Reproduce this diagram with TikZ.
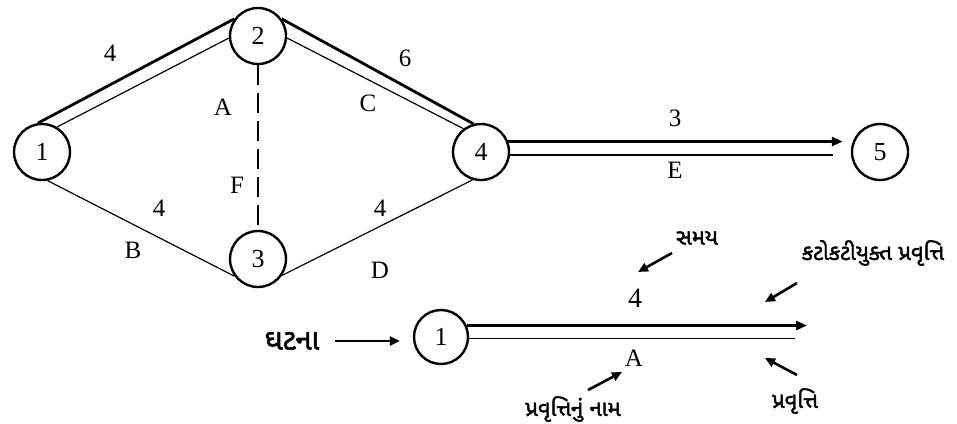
\documentclass[tikz,border=0pt]{standalone}
\usepackage{fontspec}
\setmainfont{Liberation Serif}
\newfontfamily\gujfont[Script=Gujarati,FakeBold=2]{Noto Sans Gujarati UI}
\usetikzlibrary{arrows.meta,calc}

\begin{document}
\begin{tikzpicture}[x=1pt, y=-1pt, >={Triangle[length=11pt,width=9pt]},
    event/.style={draw, circle, line width=2.4pt, minimum size=56pt, inner sep=0pt,
      font=\fontsize{26}{26}\selectfont},
    crit/.style={line width=2.8pt},
    act/.style={line width=1.2pt},
    lbl/.style={font=\fontsize{25}{25}\selectfont},
    guj/.style={font=\gujfont\fontsize{22}{22}\selectfont},
    gujbig/.style={font=\gujfont\fontsize{29}{29}\selectfont},
    pointer/.style={line width=2.6pt, -{Triangle[length=10pt,width=9pt]}}]
    \useasboundingbox (0,0) rectangle (957,423);

    % Events
    \node[event] (n1) at (42,152) {1};
    \node[event] (n2) at (258,36) {2};
    \node[event] (n3) at (258,259) {3};
    \node[event] (n4) at (481,152) {4};
    \node[event] (n5) at (880,152) {5};

    % Activities
    \draw[crit] (n1.98) -- (n2.144);
    \draw[act] (n1.59) -- (n2.184);
    \draw[crit] (n2.36) -- (n4.105);
    \draw[act] (n2.-4) -- (n4.127);
    \draw[act] (n1.-79) -- (n3.216);
    \draw[act] (n3.-34) -- (n4.253);
    \draw[crit, dash pattern=on 20pt off 8pt] (n2) -- (n3);
    \draw[crit, ->, shorten >=8pt] (n4.21) -- (n4.21 -| n5.west);
    \draw[act, shorten >=18pt] (n4.-6) -- (n4.-6 -| n5.west);

    % Durations and names
    \node[lbl] (w12) at (110,53) {4};
    \node[lbl] (a12) at (223,107) {A};
    \node[lbl] (w24) at (405,58) {6};
    \node[lbl] (c24) at (368,103) {C};
    \node[lbl] (f23) at (237,185) {F};
    \node[lbl] (w13) at (159,208) {4};
    \node[lbl] (b13) at (133,250) {B};
    \node[lbl] (w34) at (380,208) {4};
    \node[lbl] (d34) at (380,270) {D};
    \node[lbl] (w45) at (675,118) {3};
    \node[lbl] (e45) at (675,170) {E};

    % Legend
    \node[event, minimum size=54pt] (L1) at (441,337) {1};
    \node[gujbig] (ghatna) at (292,341) {ઘટના};
    \draw[pointer, shorten <=12pt, shorten >=13pt] (ghatna.east) -- (ghatna.east -| L1.west);
    \coordinate (tipc) at (807,326);
    \coordinate (tipa) at (795,340);
    \draw[crit, ->] (L1.24) -- (L1.24 -| tipc);
    \draw[act] (L1.-3) -- (L1.-3 -| tipa);
    \node[lbl, font=\fontsize{28}{28}\selectfont] (wL) at (635,298) {4};
    \node[lbl] (aL) at (634,358) {A};

    \node[guj] (samay) at (697,238) {સમય};
    \node[guj] (kato) at (873,253) {કટોકટીયુક્ત પ્રવૃત્તિ};
    \node[guj] (pravr) at (795,401) {પ્રવૃત્તિ};
    \node[guj] (naam) at (573,409) {પ્રવૃત્તિનું નામ};

    % Pointers
    \coordinate (samayT) at (672,253);
    \coordinate (samayH) at (638,272);
    \coordinate (katoT) at (797,283);
    \coordinate (katoH) at (765,302);
    \coordinate (pravrT) at (797,375);
    \coordinate (pravrH) at (765,358);
    \coordinate (naamT) at (588,390);
    \coordinate (naamH) at (622,372);
    \draw[pointer] (samayT) -- (samayH);
    \draw[pointer] (katoT) -- (katoH);
    \draw[pointer] (pravrT) -- (pravrH);
    \draw[pointer] (naamT) -- (naamH);
\end{tikzpicture}
\end{document}
